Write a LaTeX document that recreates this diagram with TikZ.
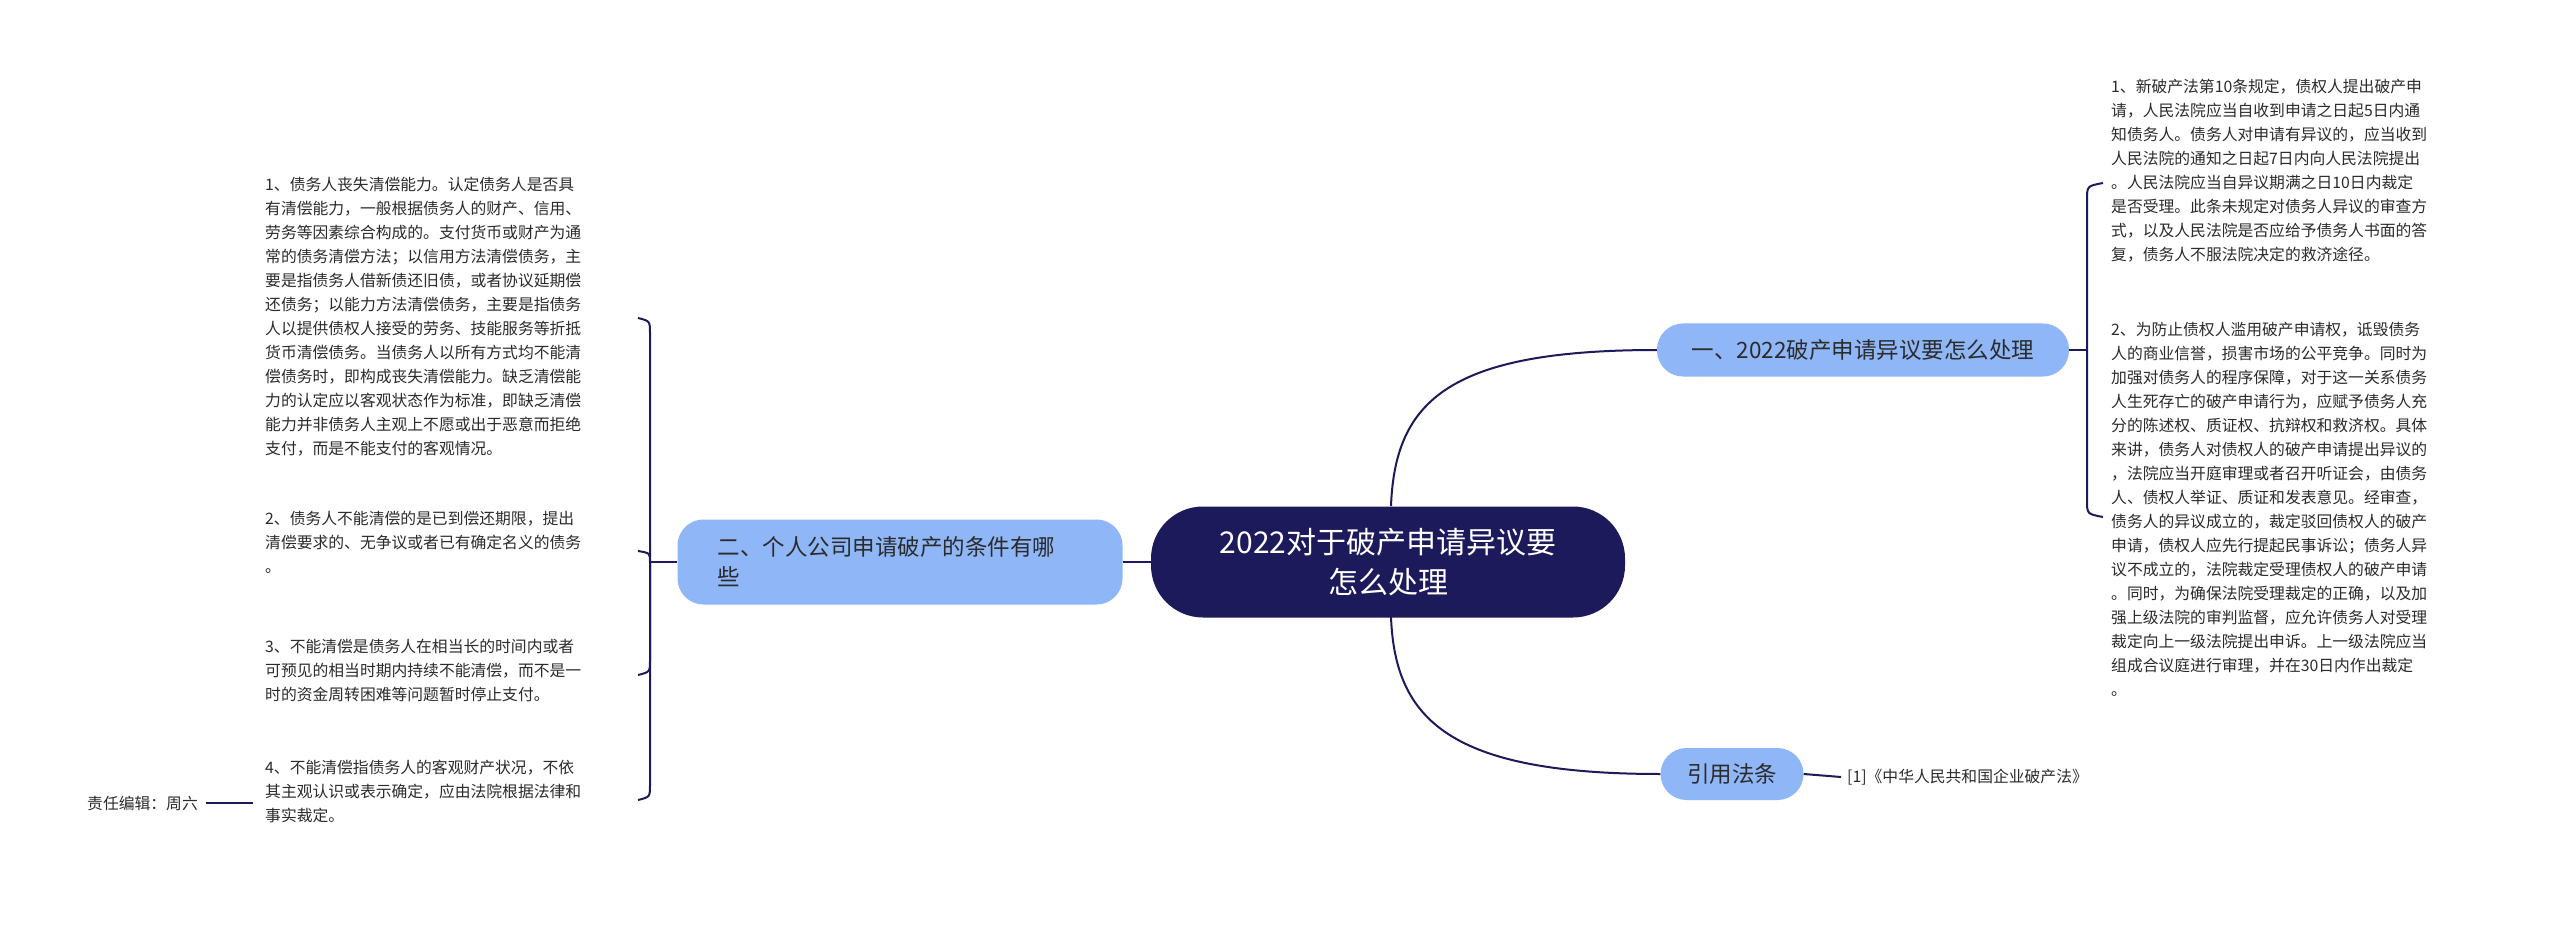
\documentclass[tikz,border=0pt]{standalone}
\usepackage{fontspec}
\setmainfont{Noto Sans CJK SC}
\begin{document}
\begin{tikzpicture}[x=1pt,y=-1pt,
  line/.style={draw=navy,line width=2pt},
  branch/.style={fill=blue1,rounded corners=26pt,text=textc,font=\fontsize{22.5}{30}\selectfont,inner sep=0pt,align=left},
  leaf/.style={anchor=north west,inner sep=0pt,text=textc,align=left,font=\fontsize{15.8}{24}\selectfont}]
\definecolor{navy}{HTML}{1D1A5C}
\definecolor{blue1}{HTML}{8FB6F6}
\definecolor{textc}{HTML}{2B2B2B}
\useasboundingbox[fill=white] (0,0) rectangle (2560,925);
\node[fill=navy,rounded corners=52pt,minimum width=474pt,minimum height=111pt,text=white,align=center,font=\fontsize{30}{40}\selectfont] (root) at (1388,562) {2022对于破产申请异议要\\怎么处理};
\node[branch,minimum width=412pt,minimum height=53pt,align=center] (b1) at (1863,350) {一、2022破产申请异议要怎么处理};
\node[branch,minimum width=143pt,minimum height=52pt,align=center] (b3) at (1732,774) {引用法条};
\node[branch,minimum width=445pt,minimum height=85pt,text width=365pt] (b2) at (900,562) {二、个人公司申请破产的条件有哪\\些};
\node[leaf] (r1) at (2111,79) {1、新破产法第10条规定，债权人提出破产申\\请，人民法院应当自收到申请之日起5日内通\\知债务人。债务人对申请有异议的，应当收到\\人民法院的通知之日起7日内向人民法院提出\\。人民法院应当自异议期满之日10日内裁定\\是否受理。此条未规定对债务人异议的审查方\\式，以及人民法院是否应给予债务人书面的答\\复，债务人不服法院决定的救济途径。};
\node[leaf] (r2) at (2111,322) {2、为防止债权人滥用破产申请权，诋毁债务\\人的商业信誉，损害市场的公平竞争。同时为\\加强对债务人的程序保障，对于这一关系债务\\人生死存亡的破产申请行为，应赋予债务人充\\分的陈述权、质证权、抗辩权和救济权。具体\\来讲，债务人对债权人的破产申请提出异议的\\，法院应当开庭审理或者召开听证会，由债务\\人、债权人举证、质证和发表意见。经审查，\\债务人的异议成立的，裁定驳回债权人的破产\\申请，债权人应先行提起民事诉讼；债务人异\\议不成立的，法院裁定受理债权人的破产申请\\。同时，为确保法院受理裁定的正确，以及加\\强上级法院的审判监督，应允许债务人对受理\\裁定向上一级法院提出申诉。上一级法院应当\\组成合议庭进行审理，并在30日内作出裁定\\。};
\node[leaf,anchor=west] (r3) at (1847,777) {[1]《中华人民共和国企业破产法》};
\node[leaf] (l1) at (265,177) {1、债务人丧失清偿能力。认定债务人是否具\\有清偿能力，一般根据债务人的财产、信用、\\劳务等因素综合构成的。支付货币或财产为通\\常的债务清偿方法；以信用方法清偿债务，主\\要是指债务人借新债还旧债，或者协议延期偿\\还债务；以能力方法清偿债务，主要是指债务\\人以提供债权人接受的劳务、技能服务等折抵\\货币清偿债务。当债务人以所有方式均不能清\\偿债务时，即构成丧失清偿能力。缺乏清偿能\\力的认定应以客观状态作为标准，即缺乏清偿\\能力并非债务人主观上不愿或出于恶意而拒绝\\支付，而是不能支付的客观情况。};
\node[leaf] (l2) at (265,511) {2、债务人不能清偿的是已到偿还期限，提出\\清偿要求的、无争议或者已有确定名义的债务\\。};
\node[leaf] (l3) at (265,639) {3、不能清偿是债务人在相当长的时间内或者\\可预见的相当时期内持续不能清偿，而不是一\\时的资金周转困难等问题暂时停止支付。};
\node[leaf] (l4) at (265,760) {4、不能清偿指债务人的客观财产状况，不依\\其主观认识或表示确定，应由法院根据法律和\\事实裁定。};
\node[leaf,anchor=west] (ed) at (87,803) {责任编辑：周六};
% connectors
\draw[line] (root.west) -- (b2.east);
\draw[line] (1391,506) .. controls (1395,400) and (1450,350) .. (b1.west);
\draw[line] (1391,617) .. controls (1395,720) and (1450,774) .. (b3.west);
\draw[line] (b3.east) -- ([xshift=-6pt]r3.west);
\draw[line] (b1.east) -- (2087,350);
\draw[line] (2087,350) -- (2087,200) .. controls (2087,186) .. (2103,183);
\draw[line] (2087,350) -- (2087,500) .. controls (2087,514) .. (2103,517);
\draw[line] (b2.west) -- (650,562);
\draw[line] (650,562) -- (650,334) .. controls (650,321) .. (638,318);
\draw[line] (650,562) .. controls (650,553) .. (638,551);
\draw[line] (650,562) -- (650,660) .. controls (650,672) .. (638,675);
\draw[line] (650,562) -- (650,785) .. controls (650,797) .. (638,800);
\draw[line] (253,803) -- ([xshift=8pt]ed.east);
\end{tikzpicture}
\end{document}
